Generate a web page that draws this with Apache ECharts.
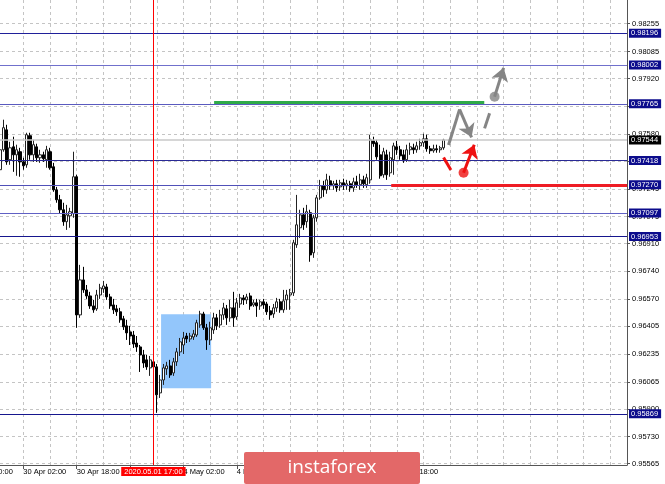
<!DOCTYPE html>
<html><head><meta charset="utf-8">
<script src="https://cdn.jsdelivr.net/npm/echarts@6/dist/echarts.min.js"></script>
<style>html,body{margin:0;padding:0;background:#fff}#c{width:665px;height:484px}</style>
</head><body><div id="c"></div>
<script>
// ---- data (H1 candles) ----
const openP = [0.97362,0.97484,0.97606,0.97423,0.97502,0.97453,0.97472,0.97410,0.97392,0.97570,
0.97453,0.97502,0.97435,0.97453,0.97423,0.97472,0.97380,0.97239,0.97178,0.97117,
0.97044,0.97080,0.97093,0.97319,0.96474,0.96688,0.96627,0.96590,0.96529,0.96511,
0.96596,0.96633,0.96645,0.96584,0.96535,0.96511,0.96493,0.96450,0.96407,0.96370,
0.96351,0.96302,0.96278,0.96229,0.96199,0.96150,0.96187,0.96156,0.95997,0.96076,
0.96144,0.96162,0.96119,0.96187,0.96248,0.96290,0.96345,0.96327,0.96339,0.96351,
0.96413,0.96480,0.96395,0.96321,0.96382,0.96456,0.96413,0.96474,0.96511,0.96456,
0.96517,0.96462,0.96541,0.96578,0.96566,0.96590,0.96535,0.96548,0.96529,0.96554,
0.96541,0.96499,0.96480,0.96517,0.96554,0.96505,0.96566,0.96596,0.96609,0.96903,
0.97007,0.97086,0.97044,0.97099,0.96854,0.97068,0.97190,0.97264,0.97239,0.97294,
0.97264,0.97276,0.97257,0.97282,0.97264,0.97276,0.97251,0.97288,0.97270,0.97300,
0.97270,0.97300,0.97539,0.97527,0.97453,0.97331,0.97453,0.97343,0.97423,0.97502,
0.97484,0.97453,0.97423,0.97484,0.97496,0.97484,0.97508,0.97527,0.97551,0.97490,
0.97478,0.97490,0.97484,0.97496];
const closeP = [0.97484,0.97619,0.97410,0.97496,0.97453,0.97484,0.97410,0.97386,0.97576,0.97453,
0.97515,0.97435,0.97453,0.97429,0.97484,0.97374,0.97239,0.97178,0.97117,0.97044,
0.97086,0.97105,0.97319,0.96474,0.96688,0.96627,0.96590,0.96529,0.96505,0.96596,
0.96639,0.96651,0.96584,0.96529,0.96505,0.96493,0.96444,0.96401,0.96364,0.96345,
0.96296,0.96278,0.96229,0.96180,0.96156,0.96199,0.96156,0.95985,0.96076,0.96150,
0.96162,0.96107,0.96187,0.96248,0.96309,0.96333,0.96327,0.96345,0.96358,0.96426,
0.96480,0.96395,0.96321,0.96395,0.96456,0.96407,0.96474,0.96517,0.96456,0.96517,
0.96456,0.96548,0.96578,0.96566,0.96584,0.96529,0.96548,0.96529,0.96554,0.96535,
0.96493,0.96474,0.96517,0.96554,0.96505,0.96560,0.96596,0.96609,0.96915,0.97025,
0.97086,0.97025,0.97105,0.96841,0.97068,0.97190,0.97264,0.97239,0.97300,0.97264,
0.97276,0.97251,0.97282,0.97264,0.97276,0.97251,0.97288,0.97270,0.97300,0.97276,
0.97313,0.97545,0.97521,0.97441,0.97325,0.97472,0.97331,0.97435,0.97508,0.97484,
0.97447,0.97423,0.97484,0.97502,0.97484,0.97508,0.97527,0.97551,0.97490,0.97478,
0.97490,0.97484,0.97496,0.97544];
const lowP = [0.97313,0.97472,0.97392,0.97392,0.97349,0.97325,0.97319,0.97362,0.97374,0.97423,
0.97410,0.97410,0.97404,0.97410,0.97374,0.97362,0.97227,0.97160,0.97093,0.97019,
0.96994,0.97007,0.97068,0.96395,0.96456,0.96609,0.96572,0.96511,0.96487,0.96499,
0.96572,0.96609,0.96566,0.96511,0.96480,0.96468,0.96426,0.96382,0.96321,0.96290,
0.96272,0.96248,0.96125,0.96150,0.96138,0.96101,0.96125,0.95875,0.95966,0.96046,
0.96107,0.96089,0.96101,0.96162,0.96223,0.96235,0.96302,0.96309,0.96321,0.96339,
0.96395,0.96382,0.96260,0.96290,0.96358,0.96382,0.96395,0.96444,0.96413,0.96432,
0.96401,0.96444,0.96517,0.96535,0.96541,0.96505,0.96523,0.96462,0.96505,0.96511,
0.96474,0.96444,0.96456,0.96493,0.96487,0.96487,0.96505,0.96505,0.96590,0.96884,
0.96945,0.96994,0.97007,0.96799,0.96823,0.97044,0.97178,0.97196,0.97215,0.97239,
0.97239,0.97227,0.97233,0.97239,0.97239,0.97227,0.97227,0.97251,0.97239,0.97251,
0.97251,0.97276,0.97502,0.97423,0.97307,0.97313,0.97300,0.97319,0.97331,0.97453,
0.97423,0.97404,0.97410,0.97453,0.97459,0.97466,0.97484,0.97502,0.97472,0.97459,
0.97466,0.97466,0.97466,0.97484];
const highP = [0.97515,0.97668,0.97637,0.97533,0.97564,0.97515,0.97496,0.97435,0.97588,0.97588,
0.97545,0.97521,0.97484,0.97472,0.97508,0.97496,0.97404,0.97257,0.97208,0.97160,
0.97147,0.97129,0.97472,0.97331,0.96780,0.96768,0.96657,0.96615,0.96566,0.96627,
0.96664,0.96682,0.96664,0.96603,0.96572,0.96535,0.96517,0.96468,0.96444,0.96407,
0.96376,0.96345,0.96290,0.96260,0.96229,0.96223,0.96211,0.96174,0.96107,0.96174,
0.96187,0.96199,0.96211,0.96272,0.96333,0.96370,0.96364,0.96364,0.96382,0.96444,
0.96499,0.96493,0.96419,0.96432,0.96487,0.96480,0.96505,0.96548,0.96535,0.96566,
0.96615,0.96578,0.96603,0.96596,0.96603,0.96609,0.96566,0.96572,0.96566,0.96572,
0.96554,0.96529,0.96541,0.96578,0.96572,0.96627,0.96627,0.96633,0.96933,0.97208,
0.97117,0.97129,0.97147,0.97117,0.97086,0.97208,0.97300,0.97294,0.97337,0.97325,
0.97294,0.97300,0.97300,0.97307,0.97300,0.97294,0.97313,0.97325,0.97337,0.97325,
0.97337,0.97576,0.97564,0.97545,0.97515,0.97496,0.97484,0.97472,0.97527,0.97539,
0.97508,0.97484,0.97515,0.97527,0.97521,0.97533,0.97551,0.97582,0.97576,0.97508,
0.97515,0.97515,0.97508,0.97551];

// time axis tick labels and price axis tick labels
const tickLabels = ["30 Apr 02:00","30 Apr 18:00","1 May 10:00","4 May 02:00","4 May 18:00","5 May 10:00","6 May 02:00","6 May 18:00"];
const cutLabel = "29 Apr 10:00";
const gridHours = ["02:00","10:00","18:00"];
const yTicks = [0.98255,0.98085,0.97920,0.97750,0.97580,0.97415,0.97245,0.97075,0.96910,0.96740,0.96570,0.96405,0.96235,0.96065,0.95900,0.95730,0.95565];
const levels = [0.98196,0.98002,0.97765,0.97418,0.97270,0.97097,0.96953,0.95869];
const bidPrice = 0.97544;
const markedTime = "2020.05.01 17:00";
const markedIndex = 46;
const yMin = 0.95556, yMax = 0.98400;
const greenLevel = [[64.2,0.97772],[145.2,0.97772]];
const redLevel = [[117.3,0.97270],[188,0.97270]];
const boxZone = [[48.3,0.96478],[63.3,0.96025]];
const greyZigA = [[134.5,0.97513],[137.8,0.97731]];
const greyZigB = [[137.8,0.97731],[141.4,0.97560]];
const greyDash = [[145.3,0.97615],[146.8,0.97707]];
const greyUp = [[148.3,0.97808],[151.0,0.97985]];
const redDash = [[133.0,0.97437],[135.2,0.97360]];
const redUp = [[139.0,0.97343],[142.2,0.97515]];

// ---- categories (hourly, weekend skipped) ----
const categories = [];
const totalSlots = 189;
for (let i = 0; i < totalSlots; i++) {
  let d, h;
  if (i <= 52) { const t = 19 + i; const dayOff = Math.floor(t/24); h = t%24; const day = 29+dayOff; d = day>30 ? (day-30)+" May" : day+" Apr"; }
  else { const t = i-53; const dayOff = Math.floor(t/24); h = t%24; d = (4+dayOff)+" May"; }
  categories.push(d+" "+String(h).padStart(2,"0")+":00");
}
const candles = openP.map((o,i)=>[o, closeP[i], lowP[i], highP[i]]);

// ---- styles ----
const FONT = "Liberation Sans";
const FS = 7.5;
const levelColors = ["#20209a","#7070cc","#5a5abf","#2a2a96","#5050b8","#6060c4","#16168e","#16168e"];
const boxBg = "#0c0c8c";
const GREY = '#858585', RED = '#ee1111';

const chart = echarts.init(document.getElementById('c'), null, {renderer:'canvas'});
const isGrid = (v)=> gridHours.some(g=>v.endsWith(g));
const boxLabel = (bg)=>({show:true,position:'end',distance:2,formatter:p=>Number(p.value).toFixed(5),color:'#fff',backgroundColor:bg,padding:[1,3,0,2],fontSize:FS,fontFamily:FONT});
chart.setOption({
  animation:false,
  backgroundColor:'#ffffff',
  grid:{left:0,right:38,top:0,bottom:19,containLabel:false},
  xAxis:[{
    type:'category', data:categories, boundaryGap:false,
    axisLine:{show:true,onZero:false,lineStyle:{color:'#555',width:1}},
    axisTick:{show:true,length:4,interval:(i,v)=>tickLabels.includes(v),lineStyle:{color:'#555'}},
    axisLabel:{show:true,interval:(i,v)=>tickLabels.includes(v),align:'left',margin:3,fontSize:FS,fontFamily:FONT,color:'#000',hideOverlap:false},
    splitLine:{show:true,interval:(i,v)=>isGrid(v),lineStyle:{color:'#c4c4c4',type:[3,3],width:1}}
  },{
    type:'value', min:0, max:totalSlots-1, show:false
  }],
  yAxis:{
    type:'value', position:'right', min:yMin, max:yMax, scale:true,
    axisLine:{show:true,onZero:false,lineStyle:{color:'#555',width:1}},
    axisTick:{show:true,length:3,inside:false,customValues:yTicks,lineStyle:{color:'#555'}},
    axisLabel:{show:true,customValues:yTicks,formatter:v=>v.toFixed(5),margin:5,fontSize:FS,fontFamily:FONT,color:'#000'},
    splitLine:{show:true,lineStyle:{color:'#c4c4c4',type:[3,3],width:1}}
  },
  graphic:[
    {type:'text', x:-30, y:468, z:1, style:{text:cutLabel,fontSize:FS,fontFamily:FONT,fill:'#000'}},
    {type:'rect', shape:{x:244,y:452,width:176,height:32,r:2}, z:100, style:{fill:'#e36868'}},
    {type:'text', x:332, y:468, z:101, style:{text:'instaforex',fill:'#ffffff',fontSize:19,fontFamily:'Open Sans',align:'center',verticalAlign:'middle'}}
  ],
  series:[
    { // highlighted zone
      type:'line', xAxisIndex:1, data:[], z:1, silent:true,
      markArea:{silent:true, itemStyle:{color:'#93c6fb',opacity:1}, data:[[{coord:boxZone[0]},{coord:boxZone[1]}]]}
    },
    {
      type:'candlestick', xAxisIndex:0, data:candles, z:3, barWidth:2.6, silent:true,
      itemStyle:{color:'#ffffff',color0:'#000000',borderColor:'#222222',borderColor0:'#000000',borderWidth:1}
    },
    { // levels, bid, time marker
      type:'line', xAxisIndex:1, data:[], z:4, silent:true,
      markLine:{silent:true, precision:5, symbol:['none','none'], animation:false,
        data:[
          ...levels.map((v,k)=>({yAxis:v, lineStyle:{color:levelColors[k],width:1,type:'solid'}, label:boxLabel(boxBg)})),
          {yAxis:bidPrice, lineStyle:{color:'#c8c8c8',width:1.5,type:'solid'}, label:boxLabel('#000')},
          {xAxis:markedIndex, lineStyle:{color:'#ff0000',width:1,type:'solid'},
            label:{show:true,position:'start',distance:2,formatter:markedTime,color:'#fff',backgroundColor:'#ff0000',padding:[1,3,0,3],fontSize:FS,fontFamily:FONT}}
        ]}
    },
    { // green and red levels
      type:'line', xAxisIndex:1, data:[], z:5, silent:true,
      markLine:{silent:true, precision:5, symbol:['none','none'], animation:false, label:{show:false},
        data:[
          [{coord:greenLevel[0], lineStyle:{color:'#2faa48',width:3,type:'solid'}},{coord:greenLevel[1]}],
          [{coord:redLevel[0], lineStyle:{color:'#ee1c24',width:3,type:'solid'}},{coord:redLevel[1]}]
        ]}
    },
    { // arrows
      type:'lines', coordinateSystem:'cartesian2d', xAxisIndex:1, z:6, silent:true,
      symbol:['none','arrow'], symbolSize:[11,13],
      lineStyle:{width:3,opacity:1},
      data:[
        {coords:greyZigB, lineStyle:{color:GREY}},
        {coords:greyUp, lineStyle:{color:GREY}},
        {coords:redUp, lineStyle:{color:RED}}
      ]
    },
    { // plain segments
      type:'lines', coordinateSystem:'cartesian2d', xAxisIndex:1, z:6, silent:true,
      symbol:['none','none'], lineStyle:{width:3,opacity:1},
      data:[
        {coords:greyZigA, lineStyle:{color:GREY}},
        {coords:greyDash, lineStyle:{color:GREY}},
        {coords:redDash, lineStyle:{color:RED}}
      ]
    },
    { // dots
      type:'scatter', xAxisIndex:1, z:7, silent:true, symbolSize:10,
      data:[{value:greyUp[0], itemStyle:{color:GREY}},{value:redUp[0], itemStyle:{color:RED}}]
    }
  ]
});
</script>
</body></html>
